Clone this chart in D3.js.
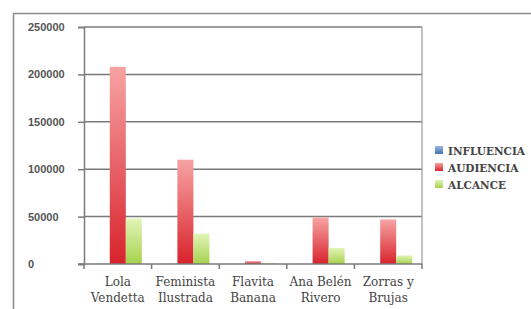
<!DOCTYPE html>
<html>
<head>
<meta charset="utf-8">
<script src="https://cdn.jsdelivr.net/npm/d3@7"></script>
<style>
  html, body { margin: 0; padding: 0; background: #fff; }
  svg { display: block; }
</style>
</head>
<body>
<div id="root"></div>
<script>
// data
const categories = [["Lola", "Vendetta"], ["Feminista", "Ilustrada"], ["Flavita", "Banana"], ["Ana Belén", "Rivero"], ["Zorras y", "Brujas"]];
const seriesNames = ["INFLUENCIA", "AUDIENCIA", "ALCANCE"];
const influencia = [300, 200, 100, 150, 100];
const audiencia = [208000, 110000, 3000, 49000, 47000];
const alcance = [48000, 32000, 800, 17000, 9000];
const yTicks = [0, 50000, 100000, 150000, 200000, 250000];

const W = 531, H = 309;
const plot = { left: 84, right: 422, top: 27, bottom: 264 };

const svg = d3.select("#root").append("svg").attr("width", W).attr("height", H);

const defs = svg.append("defs");
const grads = [
  { id: "g0", top: "#9cb9e0", bot: "#4373b5" },
  { id: "g1", top: "#f7a3a3", bot: "#d8232c" },
  { id: "g2", top: "#e2f4b8", bot: "#a6d24c" },
];
grads.forEach((g) => {
  const lg = defs.append("linearGradient").attr("id", g.id).attr("x1", 0).attr("y1", 0).attr("x2", 0).attr("y2", 1);
  lg.append("stop").attr("offset", "0%").attr("stop-color", g.top);
  lg.append("stop").attr("offset", "100%").attr("stop-color", g.bot);
});

// outer frame (runs off the right and bottom of the picture)
svg.append("path")
  .attr("d", `M13.5,${H + 2}V13.5H${W + 2}`)
  .attr("fill", "none").attr("stroke", "#8c8c8c").attr("stroke-width", 1.5);

const x0 = d3.scaleBand().domain(d3.range(categories.length)).range([plot.left, plot.right]).paddingInner(0).paddingOuter(0);
const x1 = d3.scaleBand().domain(d3.range(seriesNames.length)).range([0, x0.bandwidth()]).paddingOuter(0.61).paddingInner(0);
const y = d3.scaleLinear().domain([0, 250000]).range([plot.bottom, plot.top]);

// gridlines
svg.append("g").selectAll("line").data(yTicks.slice(1)).join("line")
  .attr("x1", plot.left).attr("x2", plot.right)
  .attr("y1", (d) => y(d)).attr("y2", (d) => y(d))
  .attr("stroke", "#7a7a7a").attr("stroke-width", 1.5);

// plot right border
svg.append("line")
  .attr("x1", plot.right).attr("x2", plot.right).attr("y1", plot.top).attr("y2", plot.bottom)
  .attr("stroke", "#9a9a9a").attr("stroke-width", 1.2);

// bars
const values = [influencia, audiencia, alcance];
const bars = svg.append("g");
values.forEach((vals, s) => {
  bars.selectAll(null).data(vals).join("rect")
    .attr("x", (d, i) => x0(i) + x1(s))
    .attr("width", x1.bandwidth())
    .attr("y", (d) => y(d))
    .attr("height", (d) => y(0) - y(d))
    .attr("fill", `url(#g${s})`);
});

// y axis
const yAxis = svg.append("g").attr("transform", `translate(${plot.left},0)`)
  .call(d3.axisLeft(y).tickValues(yTicks).tickSize(6).tickPadding(4).tickFormat(d3.format("d")));
yAxis.select(".domain").attr("stroke", "#7a7a7a").attr("stroke-width", 1.5);
yAxis.selectAll(".tick line").attr("stroke", "#7a7a7a").attr("stroke-width", 1.5);
yAxis.selectAll(".tick text")
  .attr("x", 28 - plot.left).attr("text-anchor", "start")
  .attr("fill", "#555").attr("font-family", "'Liberation Sans', Arial, sans-serif")
  .attr("font-size", 11).attr("font-weight", "bold");

// x axis
const xAxis = svg.append("g").attr("transform", `translate(0,${plot.bottom})`);
xAxis.append("line").attr("x1", plot.left - 6).attr("x2", plot.right)
  .attr("stroke", "#7a7a7a").attr("stroke-width", 1.5);
xAxis.selectAll(".xt").data(d3.range(categories.length + 1)).join("line")
  .attr("class", "xt")
  .attr("x1", (d) => plot.left + d * x0.bandwidth()).attr("x2", (d) => plot.left + d * x0.bandwidth())
  .attr("y1", 0).attr("y2", 5)
  .attr("stroke", "#7a7a7a").attr("stroke-width", 1.5);

const labels = xAxis.selectAll(".xl").data(categories).join("text")
  .attr("class", "xl")
  .attr("x", (d, i) => x0(i) + x0.bandwidth() / 2)
  .attr("text-anchor", "middle")
  .attr("fill", "#444")
  .attr("font-family", "'DejaVu Serif', 'Liberation Serif', serif")
  .attr("font-size", 12);
labels.selectAll("tspan").data((d) => d).join("tspan")
  .attr("x", function () { return d3.select(this.parentNode).attr("x"); })
  .attr("y", (d, i) => 22 + i * 16)
  .text((d) => d);

// legend
const legend = svg.append("g").attr("transform", "translate(435,146)");
seriesNames.forEach((name, i) => {
  const g = legend.append("g").attr("transform", `translate(0,${i * 17})`);
  g.append("rect").attr("width", 8).attr("height", 8).attr("fill", `url(#g${i})`);
  g.append("text").attr("x", 13).attr("y", 8.5)
    .attr("fill", "#444")
    .attr("font-family", "'DejaVu Serif', 'Liberation Serif', serif")
    .attr("font-size", 10.5).attr("font-weight", "bold")
    .text(name);
});
</script>
</body>
</html>
